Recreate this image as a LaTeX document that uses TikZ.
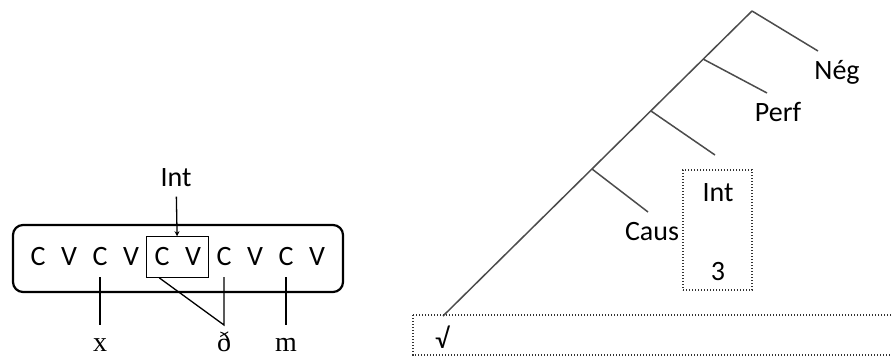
\documentclass[tikz,border=0pt]{standalone}
\usepackage{fontspec}
\setmainfont{Carlito}
\newfontfamily\glossfont{Liberation Serif}
\usetikzlibrary{positioning,calc,fit,arrows.meta}

\begin{document}
\begin{tikzpicture}[x=1pt,y=-1pt,
  font=\fontsize{28}{32}\selectfont,
  seg/.style={minimum width=30,minimum height=40,inner sep=0},
  gloss/.style={font=\glossfont\fontsize{28}{32}\selectfont,inner sep=0,text height=26,text depth=0,anchor=north},
  assoc/.style={line width=1.3},
  dotbox/.style={draw=black!80,line width=1.3,dash pattern=on 1.3pt off 1.7pt},
  tree/.style={draw=black!70,line width=1.5}]
  \useasboundingbox (0,0) rectangle (892,356);
  % gabarit CV
  \node[draw,line width=2.2,rounded corners=10,minimum width=330,minimum height=67] (skel) at (178,258.5) {};
  \foreach \l [count=\i] in {C,V,C,V,C,V,C,V,C,V}
    \node[seg] (s\i) at ({7+31*\i},257) {\l};
  \node[draw,line width=1.2,fit=(s5)(s6),inner sep=0] (cv) {};
  \node (intl) at (176,178) {Int};
  \draw[assoc,-{Stealth[length=5,width=5]},shorten <=6] (intl) -- (cv);
  \node[gloss] (x) at (100,325) {x};
  \node[gloss] (dh) at (224,325) {ð};
  \node[gloss] (m) at (286,325) {m};
  \draw[assoc] (s3.south) -- (x.north);
  \draw[assoc] (s7.south) -- (dh.north) -- ($(cv.south west)+(13,0)$);
  \draw[assoc] (s9.south) -- (m.north);
  % arbre
  \coordinate (root) at (443,316);
  \coordinate (t0) at (752,11);
  \coordinate (t1) at (703,59);
  \coordinate (t2) at (651,111);
  \coordinate (t3) at (592,169);
  \coordinate (b0) at (818,51);
  \coordinate (b1) at (767,93);
  \coordinate (b2) at (715,155);
  \coordinate (b3) at (648,212);
  \draw[tree] (root) -- (t0);
  \foreach \t/\b in {t0/b0,t1/b1,t2/b2,t3/b3}
    \draw[tree] (\t) -- (\b);
  \node (neg) at (837,72) {Nég};
  \node (perf) at (778,112) {Perf};
  \node (caus) at (652,232) {Caus};
  \node[dotbox,minimum width=69,minimum height=120] (intbox) at (717.5,230) {};
  \node (intr) at (718,193) {Int};
  \node (three) at (718,272) {3};
  \draw[dotbox] (413,315) rectangle (900,355);
  \node (rt) at (442,337) {√};
\end{tikzpicture}
\end{document}
